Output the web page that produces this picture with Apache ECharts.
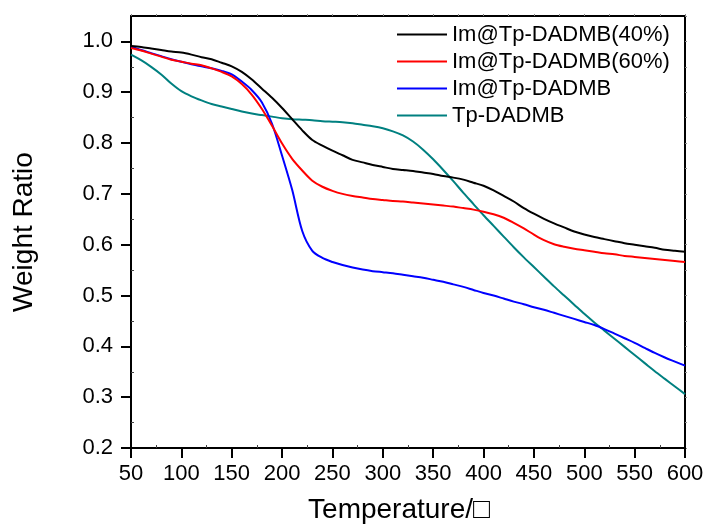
<!DOCTYPE html>
<html>
<head>
<meta charset="utf-8">
<script src="https://cdn.jsdelivr.net/npm/echarts@6/dist/echarts.min.js"></script>
<style>html,body{margin:0;padding:0;background:#fff}#c{width:708px;height:529px}</style>
</head>
<body>
<div id="c"></div>
<script>
var temps = [50,60,70,80,90,100,110,120,130,140,150,160,170,180,190,200,210,220,230,240,250,260,270,280,290,300,310,320,330,340,350,360,370,380,390,400,410,420,430,440,450,460,470,480,490,500,510,520,530,540,550,560,570,580,590,600];
var im40 = [0.991,0.989,0.986,0.983,0.980,0.978,0.974,0.969,0.965,0.958,0.951,0.940,0.925,0.907,0.889,0.869,0.847,0.825,0.806,0.795,0.785,0.776,0.767,0.762,0.757,0.753,0.749,0.747,0.745,0.742,0.739,0.735,0.732,0.728,0.722,0.716,0.707,0.696,0.685,0.672,0.661,0.651,0.642,0.634,0.626,0.620,0.615,0.611,0.607,0.603,0.600,0.597,0.594,0.590,0.588,0.586];
var im60 = [0.987,0.982,0.976,0.970,0.964,0.960,0.956,0.953,0.947,0.940,0.931,0.916,0.895,0.867,0.834,0.799,0.769,0.746,0.726,0.714,0.706,0.700,0.696,0.693,0.690,0.688,0.686,0.685,0.683,0.681,0.679,0.677,0.675,0.672,0.669,0.665,0.660,0.653,0.643,0.632,0.620,0.609,0.601,0.596,0.592,0.589,0.586,0.583,0.581,0.578,0.576,0.574,0.572,0.570,0.568,0.566];
var imPure = [0.990,0.983,0.977,0.971,0.965,0.960,0.955,0.951,0.947,0.942,0.935,0.921,0.904,0.880,0.838,0.775,0.708,0.627,0.588,0.574,0.566,0.560,0.555,0.551,0.548,0.546,0.544,0.541,0.538,0.535,0.531,0.527,0.522,0.517,0.511,0.505,0.500,0.494,0.488,0.483,0.477,0.472,0.466,0.460,0.454,0.448,0.442,0.434,0.425,0.416,0.407,0.397,0.387,0.378,0.370,0.362];
var tp = [0.974,0.963,0.950,0.935,0.917,0.902,0.892,0.884,0.877,0.872,0.867,0.862,0.858,0.855,0.852,0.849,0.847,0.846,0.845,0.843,0.842,0.841,0.839,0.836,0.833,0.829,0.823,0.815,0.803,0.787,0.768,0.747,0.725,0.702,0.680,0.658,0.637,0.616,0.595,0.575,0.556,0.537,0.518,0.500,0.482,0.464,0.447,0.431,0.415,0.399,0.383,0.367,0.351,0.336,0.321,0.306];
var seriesNames = ['Im@Tp-DADMB(40%)','Im@Tp-DADMB(60%)','Im@Tp-DADMB','Tp-DADMB'];
var seriesColors = ['#000000','#ff0000','#0000ff','#008080'];
var xTicks = [50,100,150,200,250,300,350,400,450,500,550,600];
var yTicks = [0.2,0.3,0.4,0.5,0.6,0.7,0.8,0.9,1.0];
var xMinor = [75,125,175,225,275,325,375,425,475,525,575];
var yMinor = [0.25,0.35,0.45,0.55,0.65,0.75,0.85,0.95];

var SANS = "'Liberation Sans',Arial,sans-serif";
var allY = yTicks.concat(yMinor).concat([1.05]);
var allX = xTicks.concat(xMinor);

function pair(a){ return temps.map(function(t,i){return [t,a[i]];}); }
var vals = [im40, im60, imPure, tp];

var chart = echarts.init(document.getElementById('c'), null, {renderer:'canvas'});
chart.setOption({
  backgroundColor:'#ffffff',
  animation:false,
  grid:{left:131, top:16, right:23, bottom:79, containLabel:false},
  legend:{
    orient:'vertical', left:397, top:21, padding:0, itemWidth:50, itemHeight:14, itemGap:0,
    icon:'path://M0,6 L50,6 L50,8 L0,8 Z',
    textStyle:{fontFamily:SANS, fontSize:22, color:'#000', lineHeight:27, padding:[0,0,0,0]},
    data:seriesNames
  },
  xAxis:[
    {type:'value', position:'bottom', min:50, max:600, interval:50,
     axisLine:{show:true, onZero:false, lineStyle:{color:'#000', width:2}},
     axisTick:{show:true, inside:false, length:10, lineStyle:{color:'#000', width:2}, customValues:xTicks},
     axisLabel:{show:true, margin:15, fontFamily:SANS, fontSize:22, color:'#000', customValues:xTicks},
     splitLine:{show:false},
     name:'Temperature/\u25A1', nameLocation:'middle', nameGap:48,
     nameTextStyle:{fontFamily:SANS, fontSize:28, color:'#000', padding:[0,18,0,0]}
    },
    {type:'value', position:'bottom', min:50, max:600, interval:25,
     axisLine:{show:false, onZero:false},
     axisTick:{show:true, inside:true, length:3, lineStyle:{color:'#444', width:1}, customValues:xMinor},
     axisLabel:{show:false}, splitLine:{show:false}
    },
    {type:'value', position:'top', min:50, max:600, interval:25,
     axisLine:{show:true, onZero:false, lineStyle:{color:'#000', width:2}},
     axisTick:{show:true, inside:false, length:2, lineStyle:{color:'#888', width:1}, customValues:allX},
     axisLabel:{show:false}, splitLine:{show:false}
    }
  ],
  yAxis:[
    {type:'value', position:'left', min:0.2, max:1.05, interval:0.1,
     axisLine:{show:true, onZero:false, lineStyle:{color:'#000', width:2}},
     axisTick:{show:true, inside:false, length:10, lineStyle:{color:'#000', width:2}, customValues:yTicks},
     axisLabel:{show:true, margin:18, fontFamily:SANS, fontSize:22, color:'#000', customValues:yTicks,
       formatter:function(v){return v.toFixed(1);}},
     splitLine:{show:false},
     name:'Weight Ratio', nameLocation:'middle', nameGap:93,
     nameTextStyle:{fontFamily:SANS, fontSize:28, color:'#000'}
    },
    {type:'value', position:'left', min:0.2, max:1.05, interval:0.05,
     axisLine:{show:false, onZero:false},
     axisTick:{show:true, inside:true, length:3, lineStyle:{color:'#444', width:1}, customValues:yMinor},
     axisLabel:{show:false}, splitLine:{show:false}
    },
    {type:'value', position:'right', min:0.2, max:1.05, interval:0.05,
     axisLine:{show:true, onZero:false, lineStyle:{color:'#000', width:2}},
     axisTick:{show:true, inside:false, length:2, lineStyle:{color:'#888', width:1}, customValues:allY},
     axisLabel:{show:false}, splitLine:{show:false}
    }
  ],
  series: seriesNames.map(function(n,i){
    return {name:n, type:'line', xAxisIndex:0, yAxisIndex:0, data:pair(vals[i]), smooth:0.3,
      showSymbol:false, symbol:'none', lineStyle:{color:seriesColors[i], width:2}, itemStyle:{color:seriesColors[i]}, z:10-i};
  })
});
</script>
</body>
</html>
